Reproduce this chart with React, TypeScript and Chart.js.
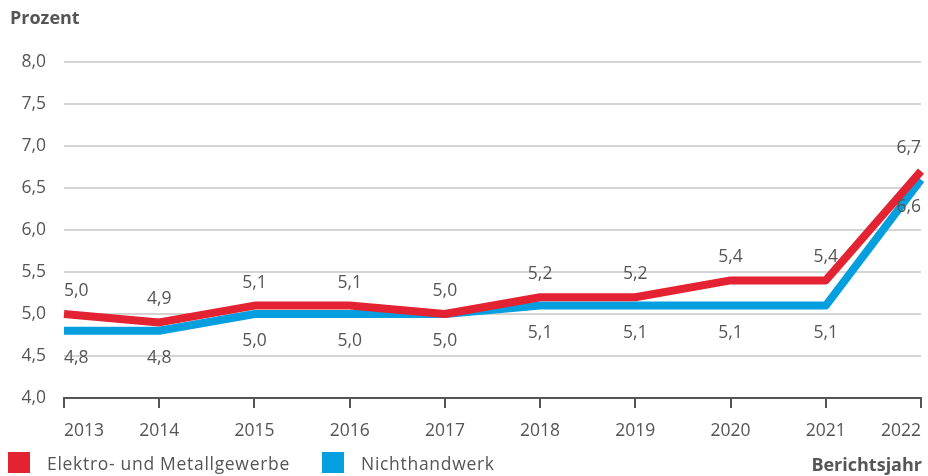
import React, { useEffect, useRef } from "react";
import { Chart, registerables } from "chart.js";

Chart.register(...registerables);

const years = ["2013", "2014", "2015", "2016", "2017", "2018", "2019", "2020", "2021", "2022"];
const elektroMetall = [5.0, 4.9, 5.1, 5.1, 5.0, 5.2, 5.2, 5.4, 5.4, 6.7];
const nichthandwerk = [4.8, 4.8, 5.0, 5.0, 5.0, 5.1, 5.1, 5.1, 5.1, 6.6];
const seriesNames = ["Elektro- und Metallgewerbe", "Nichthandwerk"];
const seriesColors = ["#e42332", "#059fe0"];
const yMin = 4;
const yMax = 8;
const yStep = 0.5;
const yTitle = "Prozent";
const xTitle = "Berichtsjahr";

const FONT = '"Open Sans", "Noto Sans", sans-serif';
const TEXT = "#555555";
const FS = 17.5;

const fmt = (v: number) => v.toFixed(1).replace(".", ",");

const overlayPlugin = {
  id: "overlay",
  afterDatasetsDraw(chart: any) {
    const ctx = chart.ctx as CanvasRenderingContext2D;
    ctx.save();
    ctx.fillStyle = TEXT;
    ctx.font = `${FS}px ${FONT}`;
    ctx.textBaseline = "middle";
    chart.data.datasets.forEach((ds: any, di: number) => {
      const meta = chart.getDatasetMeta(di);
      meta.data.forEach((pt: any, i: number) => {
        const n = meta.data.length;
        ctx.textAlign = i === 0 ? "left" : i === n - 1 ? "right" : "center";
        const y = di === 0 ? pt.y - 23 : pt.y + 27;
        ctx.fillText(fmt(ds.data[i]), pt.x, y);
      });
    });
    ctx.restore();
  },
  afterDraw(chart: any) {
    const ctx = chart.ctx as CanvasRenderingContext2D;
    ctx.save();
    ctx.textBaseline = "middle";
    ctx.fillStyle = TEXT;
    ctx.font = `bold 18px ${FONT}`;
    ctx.textAlign = "left";
    ctx.fillText(yTitle, 10, 19);
    ctx.textAlign = "right";
    ctx.fillText(xTitle, 922, 466);
    // legend
    const legendX = [8, 322];
    ctx.font = `${FS}px ${FONT}`;
    (ctx as any).letterSpacing = "0.7px";
    ctx.textAlign = "left";
    seriesNames.forEach((name, i) => {
      ctx.fillStyle = seriesColors[i];
      ctx.fillRect(legendX[i], 452, 22, 21);
      ctx.fillStyle = TEXT;
      ctx.fillText(name, legendX[i] + 39, 465);
    });
    ctx.restore();
  },
};

export default function App() {
  const ref = useRef<HTMLCanvasElement | null>(null);
  useEffect(() => {
    if (!ref.current) return;
    const chart = new Chart(ref.current, {
      type: "line",
      data: {
        labels: years,
        datasets: [
          {
            label: seriesNames[0],
            data: elektroMetall,
            borderColor: seriesColors[0],
            backgroundColor: seriesColors[0],
            borderWidth: 8,
            pointRadius: 0,
            tension: 0,
            borderJoinStyle: "round",
            borderCapStyle: "butt",
          },
          {
            label: seriesNames[1],
            data: nichthandwerk,
            borderColor: seriesColors[1],
            backgroundColor: seriesColors[1],
            borderWidth: 8,
            pointRadius: 0,
            tension: 0,
            borderJoinStyle: "round",
            borderCapStyle: "butt",
          },
        ],
      },
      options: {
        responsive: false,
        animation: false,
        devicePixelRatio: 1,
        layout: { padding: { top: 62, left: 0, right: 7, bottom: 34 } },
        plugins: { legend: { display: false }, tooltip: { enabled: false } },
        scales: {
          x: {
            type: "category",
            offset: false,
            afterFit: (s: any) => {
              s.height = 44;
              s.paddingLeft = 0;
              s.paddingRight = 0;
            },
            grid: {
              drawOnChartArea: false,
              drawTicks: true,
              tickLength: 10,
              color: "#555555",
              lineWidth: 2,
            },
            border: { display: true, color: "#555555", width: 2 },
            ticks: {
              align: "inner",
              padding: 13,
              color: TEXT,
              font: { family: FONT, size: FS },
              maxRotation: 0,
              autoSkip: false,
            },
          },
          y: {
            min: yMin,
            max: yMax,
            afterFit: (s: any) => {
              s.width = 64;
            },
            grid: { color: "#d4d4d4", lineWidth: 2, drawTicks: false },
            border: { display: false },
            ticks: {
              stepSize: yStep,
              padding: 18,
              color: TEXT,
              font: { family: FONT, size: FS },
              callback: (v: any) => fmt(Number(v)),
            },
          },
        },
      },
      plugins: [overlayPlugin],
    } as any);
    return () => chart.destroy();
  }, []);
  return (
    <div style={{ position: "absolute", left: 0, top: 0, width: 928, height: 476, background: "#fff" }}>
      <canvas ref={ref} width={928} height={476} />
    </div>
  );
}
